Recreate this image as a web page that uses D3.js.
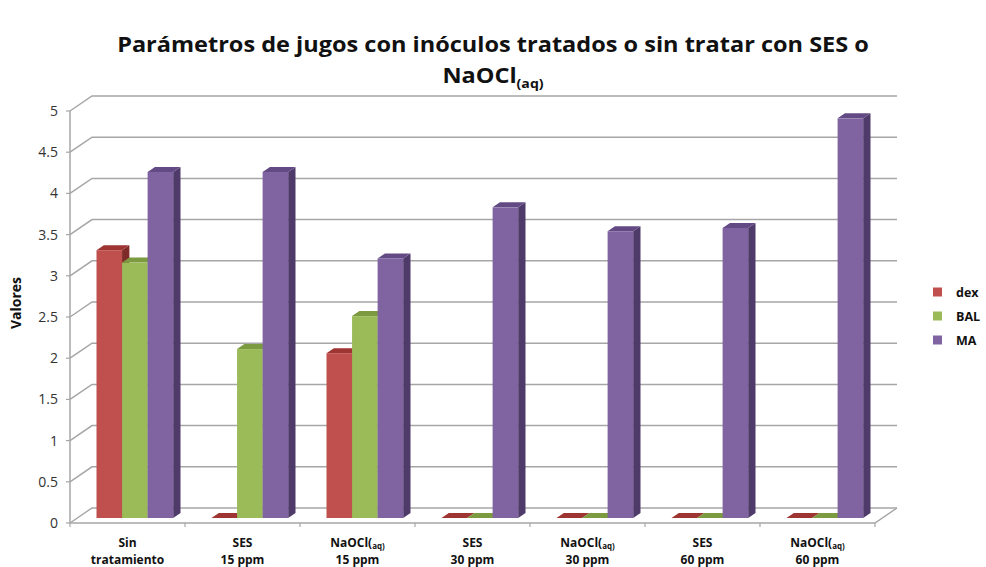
<!DOCTYPE html>
<html>
<head>
<meta charset="utf-8">
<script src="https://cdn.jsdelivr.net/npm/d3@7"></script>
<style>
  html, body { margin: 0; padding: 0; background: #fff; }
  svg { display: block; font-family: "Open Sans", "DejaVu Sans", sans-serif; }
</style>
</head>
<body>
<svg id="chart" width="986" height="567"></svg>
<script>
// Categories (main text + second line; "sub" marks NaOCl(aq) labels)
const categories = [
  { l1: "Sin", l2: "tratamiento", sub: false },
  { l1: "SES", l2: "15 ppm", sub: false },
  { l1: "NaOCl(", l2: "15 ppm", sub: true },
  { l1: "SES", l2: "30 ppm", sub: false },
  { l1: "NaOCl(", l2: "30 ppm", sub: true },
  { l1: "SES", l2: "60 ppm", sub: false },
  { l1: "NaOCl(", l2: "60 ppm", sub: true }
];
const seriesNames = ["dex", "BAL", "MA"];
const dex = [3.25, 0, 2.0, 0, 0, 0, 0];
const BAL = [3.1, 2.05, 2.45, 0, 0, 0, 0];
const MA  = [4.2, 4.2, 3.15, 3.77, 3.48, 3.52, 4.85];
const yTicks = [0, 0.5, 1, 1.5, 2, 2.5, 3, 3.5, 4, 4.5, 5];

const seriesValues = [dex, BAL, MA];
const colors = {
  dex: { front: "#C0504D", top: "#9E3532", side: "#7E2A28" },
  BAL: { front: "#9BBB59", top: "#7C9A40", side: "#657E33" },
  MA:  { front: "#8064A2", top: "#634A84", side: "#4F3B6A" }
};

const svg = d3.select("#chart");

// 3D frame: front plane and depth offset
const x0 = 70, x1 = 875, baseY = 523, plotH = 412;
const depthX = 22, depthY = 15;

const x = d3.scaleBand().domain(d3.range(categories.length)).range([x0, x1]).paddingInner(0).paddingOuter(0);
const xs = d3.scaleBand().domain(seriesNames).range([0, x.bandwidth()]).paddingInner(0).paddingOuter(0.75);
const y = d3.scaleLinear().domain([0, 5]).range([0, plotH]);

// project (screen-x on front plane, value, depth fraction 0..1)
const P = (px, v, d) => [px + depthX * d, baseY - y(v) - depthY * d];
const pts = arr => arr.map(p => p.join(",")).join(" ");

const gridColor = "#A6A6A6";

// Gridlines: diagonal on left wall + horizontal on back wall
const grid = svg.append("g");
yTicks.forEach(v => {
  const a = P(x0, v, 0), b = P(x0, v, 1), c = P(x1, v, 1);
  grid.append("polyline")
    .attr("points", pts([a, b, c]))
    .attr("fill", "none").attr("stroke", gridColor).attr("stroke-width", 1.5);
});

// Floor edges
const floor = svg.append("g");
floor.append("polyline")
  .attr("points", pts([P(x0, 0, 0), P(x1, 0, 0), P(x1, 0, 1)]))
  .attr("fill", "none").attr("stroke", gridColor).attr("stroke-width", 1.5);

// Category tick marks on the floor front edge
d3.range(categories.length + 1).forEach(i => {
  const px = i < categories.length ? x(i) : x1;
  floor.append("line")
    .attr("x1", px).attr("x2", px).attr("y1", baseY).attr("y2", baseY + 4)
    .attr("stroke", gridColor).attr("stroke-width", 1.2);
});

// Value axis line + ticks
const yAxisG = svg.append("g");
yAxisG.append("line")
  .attr("x1", x0).attr("x2", x0).attr("y1", baseY).attr("y2", baseY - y(5))
  .attr("stroke", gridColor).attr("stroke-width", 1.5);
yTicks.forEach(v => {
  const yy = baseY - y(v);
  yAxisG.append("line")
    .attr("x1", x0 - 4).attr("x2", x0).attr("y1", yy).attr("y2", yy)
    .attr("stroke", gridColor).attr("stroke-width", 1.2);
  yAxisG.append("text")
    .attr("x", x0 - 12).attr("y", yy).attr("dy", "0.36em")
    .attr("text-anchor", "end").attr("font-size", 14).attr("fill", "#333")
    .text(String(v));
});

// Bars (front face at depth 1/3, back at 2/3)
const dFront = 1 / 3, dBack = 2 / 3;
const bars = svg.append("g");
categories.forEach((c, i) => {
  seriesNames.forEach((s, j) => {
    const v = seriesValues[j][i];
    const col = colors[s];
    const left = x(i) + xs(s), right = left + xs.bandwidth();
    const g = bars.append("g");
    if (v > 0) {
      // side
      g.append("polygon")
        .attr("points", pts([P(right, 0, dFront), P(right, 0, dBack), P(right, v, dBack), P(right, v, dFront)]))
        .attr("fill", col.side);
    }
    // top
    g.append("polygon")
      .attr("points", pts([P(left, v, dFront), P(right, v, dFront), P(right, v, dBack), P(left, v, dBack)]))
      .attr("fill", col.top);
    if (v > 0) {
      // front
      const tl = P(left, v, dFront), br = P(right, 0, dFront);
      g.append("rect")
        .attr("x", tl[0]).attr("y", tl[1])
        .attr("width", br[0] - tl[0]).attr("height", br[1] - tl[1])
        .attr("fill", col.front);
    }
  });
});

// Category labels
const xl = svg.append("g").attr("font-weight", "bold").attr("font-size", 12).attr("fill", "#111");
categories.forEach((c, i) => {
  const cx = x(i) + x.bandwidth() / 2;
  const t1 = xl.append("text").attr("x", cx).attr("y", 547).attr("text-anchor", "middle");
  if (c.sub) {
    t1.append("tspan").text(c.l1);
    t1.append("tspan").attr("font-size", 8).attr("dy", 2).text("aq)");
  } else {
    t1.text(c.l1);
  }
  xl.append("text").attr("x", cx).attr("y", 564).attr("text-anchor", "middle").text(c.l2);
});

// Value axis title
svg.append("text")
  .attr("transform", "translate(21,303) rotate(-90)")
  .attr("text-anchor", "middle").attr("font-weight", "bold").attr("font-size", 14).attr("fill", "#111")
  .text("Valores");

// Legend
const lg = svg.append("g");
[292, 316, 340].forEach((ly, j) => {
  const s = seriesNames[j];
  lg.append("rect").attr("x", 933).attr("y", ly - 4.5).attr("width", 9).attr("height", 9).attr("fill", colors[s].front);
  lg.append("text").attr("x", 956).attr("y", ly).attr("dy", "0.36em")
    .attr("font-weight", "bold").attr("font-size", 12.5).attr("fill", "#111").text(s);
});

// Title: tall bold glyphs, horizontally condensed to the title width
const fs = 22;
const title = svg.append("g").attr("font-weight", "bold").attr("fill", "#111").attr("font-size", fs);
const t1 = title.append("text").attr("x", 0).attr("y", 0).attr("text-anchor", "middle")
  .text("Parámetros de jugos con inóculos tratados o sin tratar con SES o");
const k = 752 / t1.node().getComputedTextLength();
t1.attr("transform", `translate(493,52) scale(${k},1)`);
const t2 = title.append("text").attr("transform", `translate(493,83) scale(${k},1)`).attr("text-anchor", "middle");
t2.append("tspan").text("NaOCl");
t2.append("tspan").attr("font-size", fs * 0.6).attr("dy", 5).text("(aq)");
</script>
</body>
</html>
